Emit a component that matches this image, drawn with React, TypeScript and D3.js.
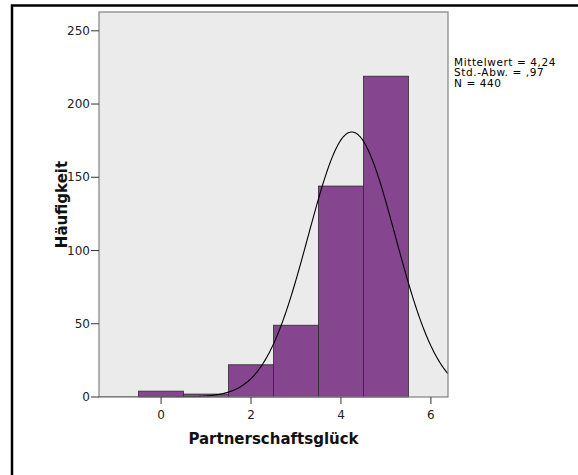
import React from "react";
import * as d3 from "d3";

// Histogram of relationship happiness with a fitted normal curve
const binCenters = [0, 1, 2, 3, 4, 5];
const binCounts = [4, 2, 22, 49, 144, 219];
const xTicks = [0, 2, 4, 6];
const yTicks = [0, 50, 100, 150, 200, 250];
const statLines = ["Mittelwert = 4,24", "Std.-Abw. = ,97", "N = 440"];
const mean = 4.24;
const sd = 0.97;
const total = 440;

const W = 578;
const H = 475;
const plot = { left: 99, right: 448, top: 12, bottom: 397 };
const font = "'DejaVu Sans', 'Liberation Sans', sans-serif";

export default function App() {
  const x = d3.scaleLinear().domain([-1.38, 6.38]).range([plot.left, plot.right]);
  const y = d3.scaleLinear().domain([0, 250]).range([plot.bottom, 30.8]);

  const curvePts = d3.range(-1.38, 6.3801, 0.02).map((v) => {
    const z = (v - mean) / sd;
    const dens = Math.exp(-0.5 * z * z) / (sd * Math.sqrt(2 * Math.PI));
    return [v, total * 1 * dens] as [number, number];
  });
  const line = d3
    .line<[number, number]>()
    .x((d) => x(d[0]))
    .y((d) => y(d[1]))
    .curve(d3.curveBasis);

  return (
    <svg
      width={W}
      height={H}
      style={{ position: "absolute", left: 0, top: 0, background: "#fff" }}
      fontFamily={font}
    >
      <defs>
        <clipPath id="plotClip">
          <rect x={plot.left} y={plot.top} width={plot.right - plot.left} height={plot.bottom - plot.top} />
        </clipPath>
      </defs>
      {/* outer frame */}
      <rect x={12} y={5.5} width={W + 10} height={H + 10} fill="none" stroke="#000" strokeWidth={2.5} />
      {/* plot background */}
      <rect
        x={plot.left}
        y={plot.top}
        width={plot.right - plot.left}
        height={plot.bottom - plot.top}
        fill="#ebebeb"
      />
      {/* bars */}
      {binCenters.map((c, i) => (
        <rect
          key={c}
          x={x(c - 0.5)}
          y={y(binCounts[i])}
          width={x(c + 0.5) - x(c - 0.5)}
          height={plot.bottom - y(binCounts[i])}
          fill="#86468f"
          stroke="#2a2a2a"
          strokeWidth={0.8}
        />
      ))}
      {/* normal curve */}
      <path d={line(curvePts) || ""} fill="none" stroke="#000" strokeWidth={1.1} clipPath="url(#plotClip)" />
      {/* plot frame */}
      <rect
        x={plot.left}
        y={plot.top}
        width={plot.right - plot.left}
        height={plot.bottom - plot.top}
        fill="none"
        stroke="#808080"
        strokeWidth={1.2}
      />
      {/* y axis ticks */}
      {yTicks.map((t) => (
        <g key={t} transform={`translate(0,${y(t)})`}>
          <line x1={plot.left - 8} x2={plot.left} stroke="#333" strokeWidth={1} />
          <text x={plot.left - 9} dy="0.35em" textAnchor="end" fontSize={12} fill="#222">
            {t}
          </text>
        </g>
      ))}
      {/* x axis ticks */}
      {xTicks.map((t) => (
        <g key={t} transform={`translate(${x(t)},0)`}>
          <line y1={plot.bottom} y2={plot.bottom + 7} stroke="#333" strokeWidth={1} />
          <text y={plot.bottom + 22} textAnchor="middle" fontSize={12} fill="#222">
            {t}
          </text>
        </g>
      ))}
      {/* axis titles */}
      <text
        x={(plot.left + plot.right) / 2}
        y={444}
        textAnchor="middle"
        fontSize={15}
        fontWeight="bold"
        fill="#111"
      >
        Partnerschaftsglück
      </text>
      <text
        transform={`translate(67,${(plot.top + plot.bottom) / 2}) rotate(-90)`}
        textAnchor="middle"
        fontSize={15}
        fontWeight="bold"
        fill="#111"
      >
        Häufigkeit
      </text>
      {/* summary statistics */}
      {statLines.map((s, i) => (
        <text key={s} x={454} y={65.5 + i * 10.5} fontSize={10.5} letterSpacing={0.6} fill="#000">
          {s}
        </text>
      ))}
    </svg>
  );
}
